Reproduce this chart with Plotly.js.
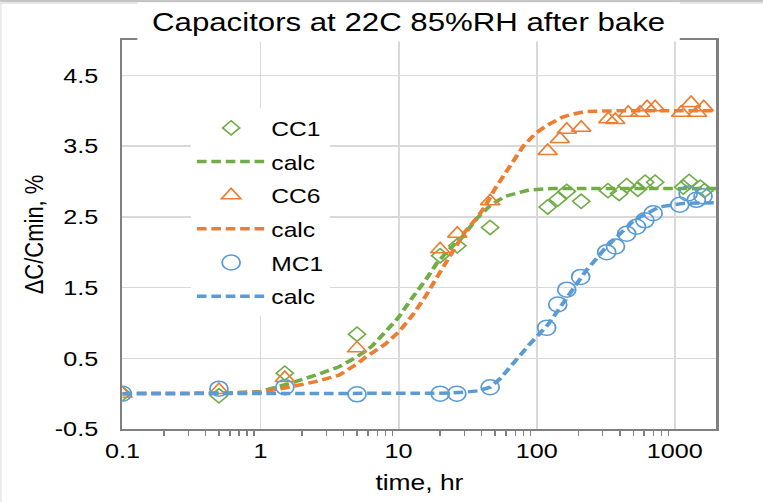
<!DOCTYPE html>
<html><head><meta charset="utf-8">
<script src="https://cdn.plot.ly/plotly-3.0.1.min.js"></script>
<style>
html,body{margin:0;padding:0;background:#fff;overflow:hidden;width:763px;height:502px;}
#chart{width:636px;height:502px;transform:scaleX(1.2);transform-origin:0 0;}
</style></head><body><div id="chart"></div>
<script>
// ---- data ----
const timeCC1 = [0.1, 0.5, 1.5, 5, 20, 26.6, 46, 120, 142, 165, 210, 328, 395, 448, 540, 610, 720, 1150, 1270, 1530, 1640];
const dcCC1   = [0, -0.03, 0.29, 0.84, 1.95, 2.09, 2.35, 2.64, 2.75, 2.86, 2.72, 2.87, 2.83, 2.94, 2.89, 2.99, 2.99, 2.92, 3.0, 2.92, 2.87];

const timeCC6 = [0.1, 0.5, 1.5, 5, 20, 26.6, 46, 120, 147, 165, 210, 330, 370, 460, 560, 630, 720, 1110, 1310, 1450, 1620];
const dcCC6   = [0, 0.05, 0.22, 0.64, 2.04, 2.26, 2.72, 3.43, 3.6, 3.73, 3.76, 3.88, 3.87, 3.97, 3.97, 4.05, 4.05, 3.97, 4.11, 3.97, 4.05];

const timeMC1 = [0.1, 0.5, 1.5, 5, 20, 26.4, 46, 118, 142, 165, 208, 321, 372, 448, 528, 607, 697, 1087, 1248, 1432, 1600];
const dcMC1   = [0, 0.07, 0.09, -0.01, 0.0, 0.0, 0.09, 0.93, 1.26, 1.47, 1.65, 2.0, 2.08, 2.26, 2.36, 2.45, 2.55, 2.67, 2.83, 2.74, 2.79];

const calcTimeCC1 = [0.1, 0.5, 1, 1.6, 2.5, 3.7, 5, 6.4, 8, 10, 12.5, 15.6, 19, 23, 28.8, 37, 46, 59, 88, 130, 200, 500, 1000, 2000];
const calcCC1     = [0, 0.005, 0.03, 0.14, 0.26, 0.38, 0.52, 0.67, 0.87, 1.08, 1.35, 1.6, 1.85, 2.03, 2.21, 2.48, 2.66, 2.79, 2.88, 2.9, 2.9, 2.9, 2.9, 2.9];

const calcTimeCC6 = [0.1, 0.5, 1, 1.6, 2.5, 3.7, 5, 5.8, 8, 10, 12.5, 15.6, 20, 25.7, 30, 37.5, 42.6, 50, 62, 70, 80, 98, 120, 154, 180, 228, 400, 1000, 2000];
const calcCC6     = [0, 0.005, 0.02, 0.09, 0.17, 0.26, 0.42, 0.52, 0.7, 0.87, 1.1, 1.37, 1.72, 2.08, 2.28, 2.5, 2.66, 2.9, 3.18, 3.35, 3.5, 3.68, 3.8, 3.91, 3.95, 3.99, 4.0, 4.0, 4.0];

const calcTimeMC1 = [0.1, 1, 10, 20, 30, 37.6, 46, 55, 67, 88, 120, 162, 228, 318, 400, 505, 772, 1150, 2000];
const calcMC1     = [0, 0, 0, 0.005, 0.02, 0.04, 0.09, 0.22, 0.42, 0.69, 0.97, 1.33, 1.74, 2.07, 2.26, 2.45, 2.64, 2.69, 2.70];

const xTickVals = [0.1, 1, 10, 100, 1000];
const xTickText = ['0.1', '1', '10', '100', '1000'];
const yTickVals = [-0.5, 0.5, 1.5, 2.5, 3.5, 4.5];
const yTickText = ['-0.5', '0.5', '1.5', '2.5', '3.5', '4.5'];

const GREEN = '#70AD47', ORANGE = '#ED7D31', BLUE = '#5B9BD5';
const FONT = 'Liberation Sans, Arial, sans-serif';
const DASH = '8px,4px';

// minor tick positions (2..9 within each decade)
const minorVals = [];
[0.1, 1, 10, 100, 1000].forEach(d => { for (let k = 2; k <= 9; k++) { if (k * d < 2000) minorVals.push(k * d); } });

function markerTrace(x, y, name, symbol, color, size, g) {
  return {x: x, y: y, name: name, type: 'scatter', mode: 'markers', legendgroup: g,
    marker: {symbol: symbol, size: size, color: color, line: {color: color, width: 1.5}}};
}
function calcTrace(x, y, color, g) {
  return {x: x, y: y, name: 'calc', type: 'scatter', mode: 'lines', legendgroup: g,
    line: {color: color, width: 3.5, dash: DASH}};
}

const data = [
  markerTrace(timeCC1, dcCC1, 'CC1', 'diamond-open', GREEN, 11, 'g1'),
  calcTrace(calcTimeCC1, calcCC1, GREEN, 'g2'),
  markerTrace(timeCC6, dcCC6, 'CC6', 'triangle-up-open', ORANGE, 14, 'g3'),
  calcTrace(calcTimeCC6, calcCC6, ORANGE, 'g4'),
  markerTrace(timeMC1, dcMC1, 'MC1', 'circle-open', BLUE, 15, 'g5'),
  calcTrace(calcTimeMC1, calcMC1, BLUE, 'g6')
];

const layout = {
  width: 636, height: 502,
  margin: {l: 102, r: 39, t: 40, b: 73},
  paper_bgcolor: '#fff', plot_bgcolor: '#fff',
  font: {family: FONT, color: '#000'},
  showlegend: true,
  legend: {x: 0.1154, y: 0.825, xanchor: 'left', yanchor: 'top', bgcolor: '#fff', borderwidth: 0,
    font: {size: 20.5, family: FONT, color: '#000'}, traceorder: 'grouped', tracegroupgap: 4, itemwidth: 57},
  xaxis: {type: 'log', range: [-1, Math.log10(2000)], tickmode: 'array', tickvals: xTickVals, ticktext: xTickText,
    ticks: '', showgrid: true, gridcolor: '#d9d9d9', gridwidth: 1.5, showline: true, mirror: true,
    linecolor: '#808080', linewidth: 2, zeroline: false, tickfont: {size: 21, family: FONT, color: '#000'},
    ticklabelstandoff: 2,
    minor: {tickmode: 'array', tickvals: minorVals, ticks: 'outside', ticklen: 5, tickwidth: 1.2, tickcolor: '#808080', showgrid: false},
    title: {text: 'time, hr', font: {size: 22, family: FONT, color: '#000'}, standoff: 13}},
  yaxis: {range: [-0.5, 5], tickmode: 'array', tickvals: yTickVals, ticktext: yTickText, ticks: '',
    showgrid: true, gridcolor: '#d9d9d9', gridwidth: 1.5, showline: true, mirror: true,
    linecolor: '#808080', linewidth: 2, zeroline: false, tickfont: {size: 21, family: FONT, color: '#000'},
    ticklabelstandoff: 14,
    title: {text: 'ΔC/Cmin, %', font: {size: 22, family: FONT, color: '#000'}, standoff: 3}},
  annotations: [{text: 'Capacitors at 22C 85%RH after bake', xref: 'paper', yref: 'paper', x: 0.481, y: 1.0463,
    xanchor: 'center', yanchor: 'middle', showarrow: false, bgcolor: '#fff', borderpad: 0, width: 451, height: 38,
    font: {size: 26, family: FONT, color: '#000'}}],
  shapes: [
    {type: 'rect', xref: 'paper', yref: 'paper', x0: -0.21, x1: 1.09, y0: 1.0977, y1: 1.11, fillcolor: '#c4c4c4', line: {width: 0}, layer: 'above'},
    {type: 'rect', xref: 'paper', yref: 'paper', x0: -0.21, x1: 1.09, y0: 1.0926, y1: 1.0977, fillcolor: '#e6e6e6', line: {width: 0}, layer: 'above'},
    {type: 'line', xref: 'paper', yref: 'paper', x0: -0.2045, x1: -0.2045, y0: -0.2, y1: 1.1, line: {color: '#e0e0e0', width: 1}, layer: 'above'}
  ]
};

Plotly.newPlot('chart', data, layout, {staticPlot: true, displayModeBar: false});
</script></body></html>
